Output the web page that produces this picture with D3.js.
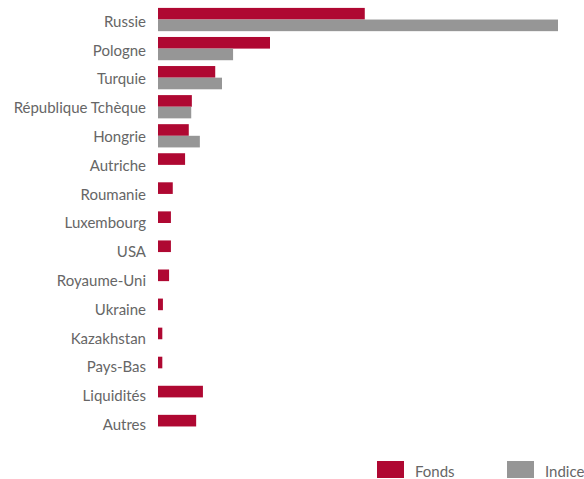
<!DOCTYPE html>
<html><head><meta charset="utf-8">
<script src="https://cdn.jsdelivr.net/npm/d3@7"></script>
<style>html,body{margin:0;padding:0;background:#fff;overflow:hidden}</style>
</head><body>
<svg id="c" width="584" height="479"></svg>
<script>
const categories = ["Russie","Pologne","Turquie","République Tchèque","Hongrie","Autriche","Roumanie","Luxembourg","USA","Royaume-Uni","Ukraine","Kazakhstan","Pays-Bas","Liquidités","Autres"];
const fonds  = [33.6,18.2,9.3,5.5,5.0,4.4,2.4,2.1,2.1,1.8,0.8,0.7,0.7,7.3,6.2];
const indice = [65.0,12.2,10.4,5.4,6.8,0,0,0,0,0,0,0,0,0,0];
const seriesNames = ["Fonds","Indice"];
const colors = ["#AF0832","#969696"];

const svg = d3.select("#c");
const font = "Lato, 'Gill Sans', sans-serif";
const x = d3.scaleLinear().domain([0,65]).range([158,558]);
const y = d3.scaleBand().domain(categories).range([5,441]).paddingInner(0.2).paddingOuter(0.1);
const sub = d3.scaleBand().domain(seriesNames).range([0,y.bandwidth()]);
const yLabel = d3.scalePoint().domain(categories).range([21,424]);

const data = [fonds, indice];
data.forEach((vals,si)=>{
  svg.append("g").selectAll("rect").data(categories).join("rect")
    .attr("x", x(0))
    .attr("y", d=>y(d)+sub(seriesNames[si]))
    .attr("width", (d,i)=>x(vals[i])-x(0))
    .attr("height", sub.bandwidth())
    .attr("fill", colors[si]);
});

const yAxis = d3.axisLeft(yLabel).tickSize(0).tickPadding(0);
const ag = svg.append("g").attr("transform",`translate(146,0)`).call(yAxis);
ag.select(".domain").remove();
ag.selectAll("text").attr("font-family",font).attr("font-size",15).attr("fill","#666").attr("dy","0.36em");

const leg = svg.append("g");
const legX = [377,507];
seriesNames.forEach((n,i)=>{
  leg.append("rect").attr("x",legX[i]).attr("y",461).attr("width",27).attr("height",17).attr("fill",colors[i]);
  leg.append("text").attr("x",legX[i]+38).attr("y",477).text(n)
    .attr("font-family",font).attr("font-size",15).attr("fill","#666");
});
</script>
</body></html>
